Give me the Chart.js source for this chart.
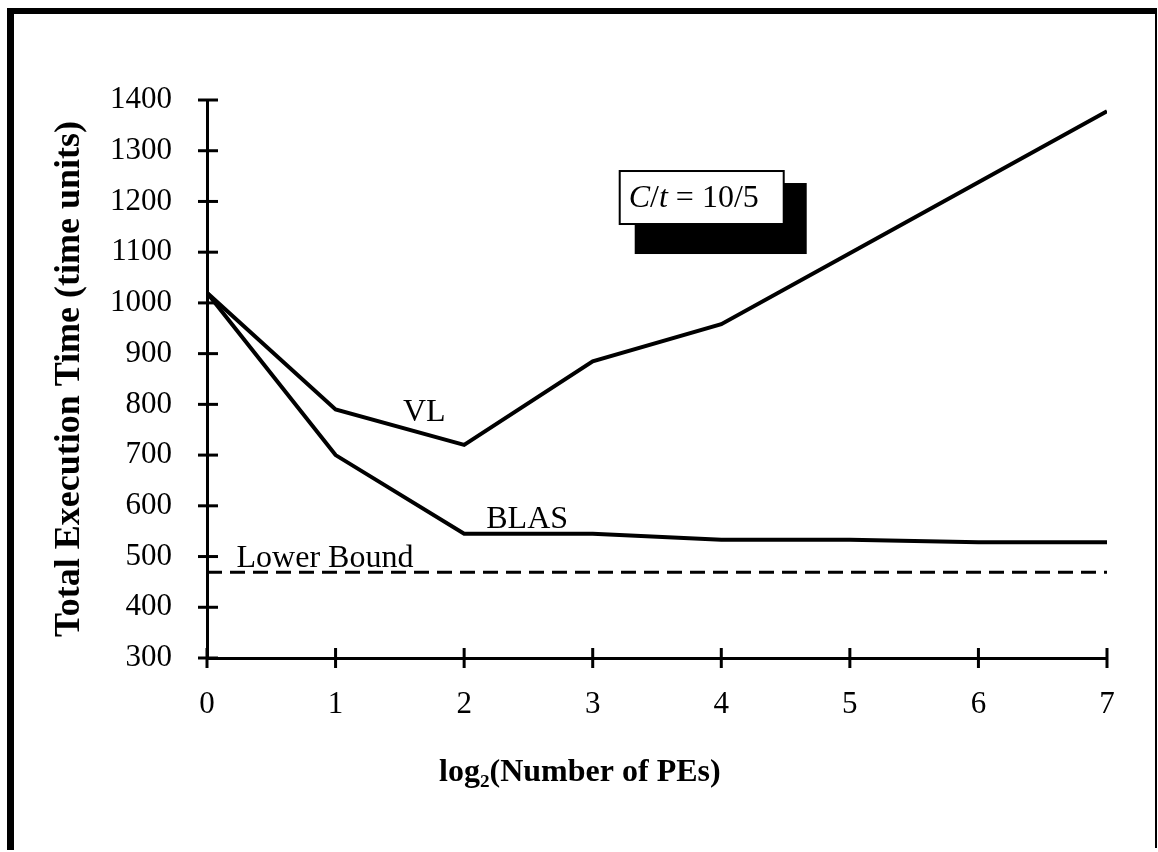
<!DOCTYPE html>
<html>
<head>
<meta charset="utf-8">
<script src="https://cdn.jsdelivr.net/npm/chart.js@4/dist/chart.umd.min.js"></script>
<style>
html,body{margin:0;padding:0;background:#fff;}
#wrap{position:relative;width:1158px;height:852px;}
canvas{display:block;}
</style>
</head>
<body>
<div id="wrap"><canvas id="c" width="1158" height="852"></canvas></div>
<script>
const xValues = [0, 1, 2, 3, 4, 5, 6, 7];
const vlTimes = [1020, 790, 720, 885, 958, 1098, 1238, 1378];
const blasTimes = [1020, 700, 545, 545, 533, 533, 528, 528];
const lowerBound = [469, 469, 469, 469, 469, 469, 469, 469];
const yTicks = [300, 400, 500, 600, 700, 800, 900, 1000, 1100, 1200, 1300, 1400];
const seriesLabels = ["VL", "BLAS", "Lower Bound"];
const yTitle = "Total Execution Time (time units)";
const xTitle = "log\u2082(Number of PEs)";

const SERIF = '"Liberation Serif", "Times New Roman", serif';
const PAD = {left: 14, right: 51, top: 100, bottom: 20};
const AXIS_LEFT = 207, AXIS_BOTTOM = 658;

const decor = {
  id: 'decor',
  afterDraw(chart) {
    const ctx = chart.ctx;
    const xs = chart.scales.x, ys = chart.scales.y;
    ctx.save();
    // frame
    ctx.fillStyle = '#000';
    ctx.fillRect(7, 8, 1149, 6);
    ctx.fillRect(7, 8, 7, 842);
    ctx.fillRect(1155, 8, 2, 840);
    // cross ticks
    ctx.strokeStyle = '#000';
    ctx.lineWidth = 3;
    const x0 = xs.getPixelForValue(0);
    yTicks.forEach(v => {
      const p = ys.getPixelForValue(v);
      ctx.beginPath(); ctx.moveTo(x0 - 9, p); ctx.lineTo(x0 + 11, p); ctx.stroke();
    });
    const yb = ys.getPixelForValue(300);
    xValues.forEach(v => {
      const p = xs.getPixelForValue(v);
      ctx.beginPath(); ctx.moveTo(p, yb - 10); ctx.lineTo(p, yb + 10); ctx.stroke();
    });
    // series labels
    ctx.fillStyle = '#000';
    ctx.font = '32px ' + SERIF;
    ctx.textBaseline = 'middle';
    ctx.textAlign = 'center';
    ctx.fillText(seriesLabels[0], xs.getPixelForValue(1.69), ys.getPixelForValue(784));
    ctx.fillText(seriesLabels[1], xs.getPixelForValue(2.49), ys.getPixelForValue(572));
    ctx.textAlign = 'left';
    ctx.fillText(seriesLabels[2], xs.getPixelForValue(0.23), ys.getPixelForValue(496));
    // x title
    ctx.font = 'bold 32px ' + SERIF;
    ctx.textAlign = 'center';
    ctx.fillText(xTitle, xs.getPixelForValue(2.9), 773);
    // annotation box with shadow
    const bx = xs.getPixelForValue(3.21), by = ys.getPixelForValue(1260);
    const bw = 164, bh = 53;
    ctx.fillRect(bx + 15, by + 12, bw + 8, bh + 18);
    ctx.fillStyle = '#fff';
    ctx.fillRect(bx, by, bw, bh);
    ctx.lineWidth = 2;
    ctx.strokeRect(bx, by, bw, bh);
    ctx.fillStyle = '#000';
    ctx.textAlign = 'left';
    ctx.textBaseline = 'alphabetic';
    let tx = bx + 9; const ty = by + 36;
    const parts = [["C", true], ["/", false], ["t", true], [" = 10/5", false]];
    parts.forEach(([s, it]) => {
      ctx.font = (it ? 'italic ' : '') + '32px ' + SERIF;
      ctx.fillText(s, tx, ty);
      tx += ctx.measureText(s).width;
    });
    ctx.restore();
  }
};

new Chart(document.getElementById('c'), {
  type: 'line',
  data: {
    labels: xValues,
    datasets: [
      {label: seriesLabels[0], data: vlTimes, borderColor: '#000', borderWidth: 4, pointRadius: 0, tension: 0, fill: false},
      {label: seriesLabels[1], data: blasTimes, borderColor: '#000', borderWidth: 4, pointRadius: 0, tension: 0, fill: false},
      {label: seriesLabels[2], data: lowerBound, borderColor: '#000', borderWidth: 3, borderDash: [15, 8], pointRadius: 0, tension: 0, fill: false}
    ]
  },
  options: {
    responsive: false,
    animation: false,
    devicePixelRatio: 1,
    layout: {padding: PAD},
    plugins: {legend: {display: false}, tooltip: {enabled: false}},
    scales: {
      x: {
        type: 'linear', min: 0, max: 7,
        grid: {display: false},
        border: {display: true, color: '#000', width: 3},
        ticks: {stepSize: 1, color: '#000', font: {family: SERIF, size: 31}, padding: 20, maxRotation: 0, callback: v => String(v)},
        afterFit(s) { s.height = 852 - AXIS_BOTTOM - PAD.bottom; }
      },
      y: {
        min: 300, max: 1400,
        grid: {display: false},
        border: {display: true, color: '#000', width: 3},
        ticks: {stepSize: 100, color: '#000', font: {family: SERIF, size: 31}, padding: 27, callback: v => String(v)},
        title: {display: true, text: yTitle, color: '#000', font: {family: SERIF, size: 36, weight: 'bold'}, padding: {top: 34, bottom: 0}},
        afterFit(s) { s.width = AXIS_LEFT - PAD.left; }
      }
    }
  },
  plugins: [decor]
});
</script>
</body>
</html>
